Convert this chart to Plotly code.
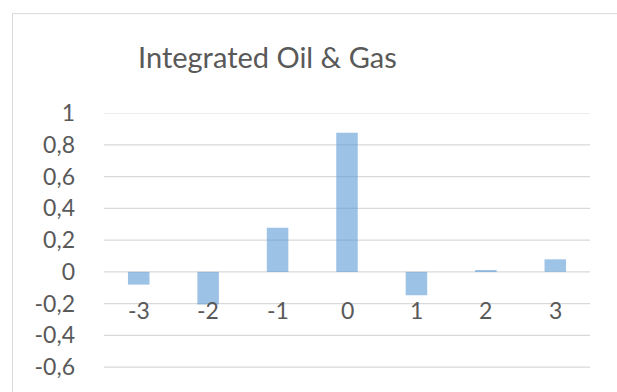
import plotly.graph_objects as go

# Event-window offsets and the value measured at each offset
offsets = [-3, -2, -1, 0, 1, 2, 3]
offset_labels = ["-3", "-2", "-1", "0", "1", "2", "3"]
values = [-0.08, -0.205, 0.278, 0.876, -0.147, 0.01, 0.079]

# Y axis ticks, written with a decimal comma
y_ticks = [-0.6, -0.4, -0.2, 0, 0.2, 0.4, 0.6, 0.8, 1]
y_tick_labels = ["-0,6", "-0,4", "-0,2", "0", "0,2", "0,4", "0,6", "0,8", "1"]

title_text = "Integrated Oil & Gas"

FONT = "Lato"
TEXT_COLOR = "#595959"
GRID_COLOR = "#d9d9d9"

W, H = 617, 392
ML, MR, MT, MB = 104, 27, 113, 21
plot_w = W - ML - MR
plot_h = H - MT - MB

fig = go.Figure()
fig.add_trace(go.Bar(
    x=offsets,
    y=values,
    width=0.31,
    marker=dict(color="#5B9BD5", line=dict(width=0)),
    opacity=0.6,
    hoverinfo="skip",
))

# Horizontal gridlines, one per y tick
for yv in y_ticks:
    fig.add_shape(
        type="line", xref="paper", yref="y", x0=0, x1=1, y0=yv, y1=yv,
        line=dict(color=GRID_COLOR, width=1.2), layer="below",
    )

# Category labels sit just under the zero line
for x, lab in zip(offsets, offset_labels):
    fig.add_annotation(
        x=x, y=0, xref="x", yref="y", text=lab, showarrow=False,
        yanchor="top", yshift=-22,
        font=dict(family=FONT, size=23, color=TEXT_COLOR),
    )


def px_to_paper_x(px):
    return (px - ML) / plot_w


def px_to_paper_y(py):
    return (H - MB - py) / plot_h


# Outer chart frame
fig.add_shape(
    type="rect", xref="paper", yref="paper",
    x0=px_to_paper_x(12.5), x1=px_to_paper_x(W + 20),
    y0=px_to_paper_y(H + 20), y1=px_to_paper_y(12.5),
    line=dict(color=GRID_COLOR, width=1), fillcolor="rgba(0,0,0,0)",
    layer="below",
)

fig.add_annotation(
    x=px_to_paper_x(267.5), y=px_to_paper_y(56), xref="paper", yref="paper",
    text=title_text, showarrow=False, xanchor="center", yanchor="middle",
    font=dict(family=FONT, size=29, color=TEXT_COLOR),
)

fig.update_layout(
    width=W, height=H,
    margin=dict(l=ML, r=MR, t=MT, b=MB),
    paper_bgcolor="white", plot_bgcolor="white",
    showlegend=False,
    xaxis=dict(
        range=[-3.5, 3.5], showticklabels=False, showgrid=False,
        zeroline=False, showline=False, ticks="",
    ),
    yaxis=dict(
        range=[-0.605, 1.0], tickvals=y_ticks, ticktext=y_tick_labels,
        showgrid=False, zeroline=False,
        showline=False, ticks="", ticklabelstandoff=28,
        tickfont=dict(family=FONT, size=23, color=TEXT_COLOR),
    ),
)

fig.write_html("out.html")
